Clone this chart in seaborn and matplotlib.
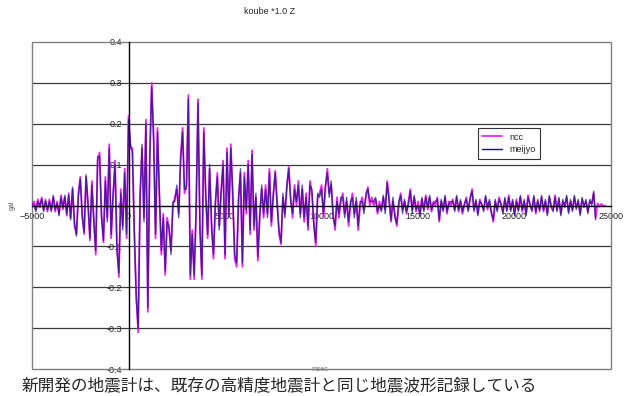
import numpy as np
import pandas as pd
import seaborn as sns
import matplotlib

matplotlib.use("Agg")
import matplotlib.pyplot as plt
from matplotlib.patches import Rectangle

# sampling of the two records (msec)
START_MS = -5000
STEP_MS = 100

# ncc record, gal, one value every 100 msec from -5000
ncc = [
    # -5000 .. -3000
    0.0, 0.01, -0.01, 0.015, -0.005, 0.02, -0.01, 0.01, -0.015, 0.015, -0.01,
    0.02, -0.015, 0.01, -0.02, 0.025, -0.01, 0.02, -0.025, 0.03, -0.03,
    # -2900 .. -100
    0.04, -0.05, -0.07, 0.03, 0.07, -0.02, -0.07, 0.07, 0.0, -0.085,
    0.06, -0.03, -0.12, 0.11, 0.13, -0.02, -0.09, 0.07, -0.03, 0.15,
    -0.08, 0.02, 0.11, -0.10, -0.175, 0.04, -0.05, 0.09, -0.08,
    # 0 .. 1500
    0.22, 0.14, 0.14, -0.07, -0.22, -0.31, 0.03, 0.14, -0.03, 0.21,
    -0.26, 0.12, 0.30, 0.17, -0.08, 0.19,
    # 1600 .. 2600
    0.02, -0.12, -0.02, -0.17, -0.03, -0.06, -0.11, 0.0, 0.02, 0.04, -0.02,
    # 2700 .. 9900
    0.12, 0.19, 0.03, 0.05, 0.27, -0.18, -0.06, -0.18, -0.02, 0.26,
    -0.05, -0.18, 0.19, 0.02, -0.08, 0.09, -0.04, -0.13, 0.0, 0.08,
    -0.05, 0.03, 0.11, -0.13, 0.14, -0.02, 0.15, 0.02, -0.13, -0.15,
    0.02, 0.08, -0.15, 0.08, -0.02, 0.11, -0.07, 0.135, -0.06, 0.02,
    -0.135, -0.02, 0.04, -0.03, 0.05, -0.02, 0.09, -0.05, 0.02, 0.085,
    0.01, -0.07, -0.095, 0.02, -0.02, 0.04, 0.095, 0.02, -0.03, 0.05,
    0.0, 0.06, -0.02, 0.04, -0.04, 0.03, -0.06, 0.06, 0.03, -0.04,
    -0.1, 0.02, 0.03,
    # 10000 .. 24700
    0.05, -0.03, 0.04, 0.09, 0.03, 0.05, -0.02, -0.06, 0.02, -0.03,
    0.01, 0.03, -0.02, 0.01, -0.05, 0.0, 0.03, -0.02, 0.01, -0.06,
    0.0, 0.02, -0.01, 0.02, 0.045, 0.0, 0.02, 0.0, 0.015, -0.02,
    0.01, -0.01, 0.02, -0.01, 0.06, 0.02, -0.04, 0.01, -0.02, -0.05,
    0.0, 0.03, -0.01, 0.01, -0.02, 0.01, 0.04, -0.01, 0.02, -0.015,
    0.01, -0.02, 0.015, -0.01, 0.025, -0.01, 0.02, -0.015, 0.01, 0.0,
    0.02, -0.04, 0.01, -0.01, 0.02, -0.02, 0.01, 0.0, 0.015, -0.01,
    0.02, -0.015, 0.01, -0.02, 0.0, 0.02, -0.01, 0.015, 0.04, -0.01,
    0.01, -0.02, 0.015, 0.0, -0.01, 0.02, -0.01, 0.01, -0.015, -0.04,
    0.01, -0.01, 0.02, 0.0, -0.015, 0.015, -0.01, 0.025, -0.01, 0.01,
    -0.02, 0.015, -0.01, 0.02, -0.015, 0.01, -0.02, 0.025, 0.0, -0.01,
    0.02, -0.02, 0.01, -0.01, 0.02, -0.015, 0.01, -0.02, 0.02, 0.0,
    -0.01, 0.025, -0.01, 0.015, -0.02, 0.01, 0.0, 0.02, -0.015, 0.01,
    -0.01, 0.02, -0.005, 0.01, -0.02, 0.015, 0.0, 0.01, -0.015, 0.01,
    0.005, 0.03, -0.03, 0.005, -0.003, 0.004, -0.002, 0.0,
]

# meijyo record, same sampling, ends earlier
meijyo = [
    # -5000 .. -3000
    0.005, 0.0, -0.015, 0.01, 0.0, 0.015, -0.015, 0.015, -0.01, 0.01, -0.015,
    0.025, -0.01, 0.005, -0.025, 0.02, -0.005, 0.025, -0.02, 0.025, -0.035,
    # -2900 .. -100
    0.045, -0.04, -0.075, 0.02, 0.065, -0.03, -0.065, 0.075, 0.01, -0.08,
    0.05, -0.04, -0.11, 0.12, 0.12, -0.03, -0.085, 0.06, -0.04, 0.14,
    -0.07, 0.03, 0.10, -0.11, -0.165, 0.03, -0.06, 0.08, -0.07,
    # 0 .. 1500
    0.21, 0.15, 0.13, -0.06, -0.23, -0.30, 0.02, 0.15, -0.04, 0.20,
    -0.25, 0.11, 0.29, 0.16, -0.07, 0.18,
    # 1600 .. 2600
    0.03, -0.11, -0.03, -0.16, -0.04, -0.05, -0.12, 0.01, 0.01, 0.05, -0.03,
    # 2700 .. 9900
    0.11, 0.18, 0.04, 0.04, 0.26, -0.17, -0.07, -0.17, -0.01, 0.25,
    -0.06, -0.17, 0.18, 0.03, -0.07, 0.10, -0.05, -0.12, 0.01, 0.07,
    -0.06, 0.04, 0.10, -0.12, 0.13, -0.03, 0.14, 0.03, -0.12, -0.14,
    0.01, 0.09, -0.14, 0.07, -0.01, 0.10, -0.06, 0.125, -0.05, 0.03,
    -0.125, -0.03, 0.05, -0.02, 0.04, -0.03, 0.08, -0.04, 0.03, 0.08,
    0.0, -0.06, -0.09, 0.03, -0.03, 0.05, 0.09, 0.01, -0.02, 0.04,
    0.01, 0.05, -0.03, 0.05, -0.03, 0.02, -0.05, 0.05, 0.04, -0.05,
    -0.09, 0.03, 0.02,
    # 10000 .. 24200
    0.04, -0.02, 0.05, 0.08, 0.02, 0.06, -0.03, -0.05, 0.01, -0.02,
    0.02, 0.02, -0.03, 0.02, -0.04, 0.01, 0.02, -0.03, 0.02, -0.05,
    0.01, 0.01, -0.02, 0.03, 0.04, 0.01, 0.01, 0.01, 0.02, -0.015,
    0.0, -0.015, 0.025, -0.02, 0.055, 0.01, -0.035, 0.02, -0.03, -0.045,
    0.01, 0.025, -0.02, 0.015, -0.015, 0.0, 0.035, -0.02, 0.025, -0.01,
    0.0, -0.025, 0.02, -0.015, 0.02, -0.005, 0.025, -0.01, 0.005, 0.01,
    0.015, -0.035, 0.015, -0.015, 0.025, -0.015, 0.005, 0.01, 0.01, -0.015,
    0.025, -0.01, 0.015, -0.015, 0.005, 0.015, -0.015, 0.02, 0.035, -0.015,
    0.015, -0.025, 0.01, 0.005, -0.015, 0.025, -0.005, 0.015, -0.02, -0.035,
    0.015, -0.015, 0.015, 0.005, -0.02, 0.02, -0.015, 0.02, -0.015, 0.015,
    -0.025, 0.01, -0.015, 0.025, -0.01, 0.015, -0.025, 0.02, 0.005, -0.015,
    0.025, -0.015, 0.015, -0.015, 0.025, -0.01, 0.015, -0.025, 0.025, -0.005,
    -0.015, 0.02, -0.015, 0.02, -0.025, 0.015, -0.005, 0.025, -0.02, 0.015,
    -0.015, 0.025, -0.01, 0.015, -0.025, 0.02, -0.005, 0.015, -0.02, 0.015,
    0.0, 0.035, -0.035,
]

Y_TICKS = [-0.4, -0.3, -0.2, -0.1, 0.0, 0.1, 0.2, 0.3, 0.4]
X_TICKS = [-5000, 0, 5000, 10000, 15000, 20000, 25000]

TITLE = "koube *1.0 Z"
CAPTION = "新開発の地震計は、既存の高精度地震計と同じ地震波形記録している"

sns.set_style("white")
plt.rcParams["font.family"] = ["Liberation Sans", "DejaVu Sans"]


def record_frame(values, name):
    times = START_MS + STEP_MS * np.arange(len(values))
    return pd.DataFrame({"msec": times, "gal": values, "series": name})


df_ncc = record_frame(ncc, "ncc")
df_meijyo = record_frame(meijyo, "meijyo")

fig = plt.figure(figsize=(6.28, 3.96), dpi=100)
ax = fig.add_axes([0.051, 0.068, 0.922, 0.826])

for y in Y_TICKS[1:-1]:
    if y != 0:
        ax.axhline(y, color="#3a3a3a", lw=0.9, zorder=0)

sns.lineplot(data=df_ncc, x="msec", y="gal", color="#ee22ee", lw=1.3,
             estimator=None, sort=False, label="ncc", ax=ax, zorder=2)
sns.lineplot(data=df_meijyo, x="msec", y="gal", color="#101080", lw=1.0, alpha=0.7,
             estimator=None, sort=False, label="meijyo", ax=ax, zorder=3)

ax.set_xlim(-5000, 25000)
ax.set_ylim(-0.4, 0.4)
ax.set_xticks(X_TICKS)
ax.set_yticks(Y_TICKS)
ax.set_yticklabels([f"{v:g}" for v in Y_TICKS])
ax.set_xlabel("")
ax.set_ylabel("")

ax.spines["left"].set_position(("data", 0))
ax.spines["bottom"].set_position(("data", 0))
for side in ("left", "bottom"):
    ax.spines[side].set_color("black")
    ax.spines[side].set_linewidth(1.0)
    ax.spines[side].set_zorder(4)
ax.spines["top"].set_visible(False)
ax.spines["right"].set_visible(False)
ax.add_patch(Rectangle((0, 0), 1, 1, transform=ax.transAxes, fill=False,
                       edgecolor="#808080", lw=1.0, zorder=1, clip_on=False))

ax.tick_params(axis="both", which="major", labelsize=6.5, length=3, width=0.8,
               direction="out", color="black", pad=1.5)

leg = ax.legend(loc="upper left", bbox_to_anchor=(0.770, 0.737), fontsize=6.5,
                frameon=True, fancybox=False, edgecolor="black", handlelength=2.2,
                borderpad=0.5, labelspacing=0.4, borderaxespad=0)
leg.get_frame().set_linewidth(0.8)
for line in leg.get_lines():
    line.set_alpha(1.0)

fig.text(0.43, 0.97, TITLE, ha="center", va="center", fontsize=6.5)
fig.text(0.019, 0.482, "gal", rotation=90, ha="center", va="center", fontsize=5, color="#555555")
fig.text(0.51, 0.066, "msec", ha="center", va="center", fontsize=5, color="#777777")
fig.text(0.035, 0.004, CAPTION, ha="left", va="bottom", fontsize=12,
         family=["Noto Sans CJK JP", "DejaVu Sans"])

fig.savefig("out.png", dpi=100)
